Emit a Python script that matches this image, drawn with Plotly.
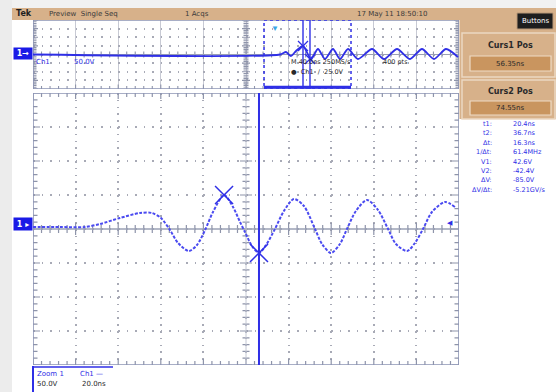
import plotly.graph_objects as go

W, H = 556, 392

# ---------------- data ----------------
# Zoom (main) window trace: time in ns, voltage in V
main_t = [-100.0, -87.3, -75.6, -68.5, -59.2, -49.8, -44.1, -39.9, -35.7, -31.9,
          -26.8, -23.0, -19.2, -15.5, -10.3, -6.1, -2.8, -0.5, 2.8, 6.1,
          9.4, 13.6, 17.8, 22.5, 27.2, 32.4, 35.7, 39.9, 44.1, 47.4,
          51.6, 56.8, 62.0, 66.7, 70.4, 75.6, 79.3, 83.1, 87.3, 93.4, 98.1]
main_v = [2.9, 2.9, 2.9, 7.4, 16.2, 23.5, 23.5, 16.2, -1.5, -20.6,
          -32.4, -23.5, -1.5, 25.0, 50.0, 32.4, 10.3, -4.4, -25.0, -35.3,
          -23.5, 0.0, 26.5, 44.1, 33.8, 0.0, -22.1, -35.3, -22.1, 0.0,
          26.5, 42.6, 27.9, 0.0, -22.1, -32.4, -20.6, 0.0, 25.0, 39.7, 32.4]

# Full record (upper) window trace
up_t = [-500, 79.8, 93.9, 105.6, 117.4, 133.8, 152.6, 169.0, 185.4, 204.2, 220.7,
        239.4, 262.9, 295.8, 323.9, 354.5, 385.0, 413.1, 441.3, 469.5, 497.6]
up_v = [0, 0, 14.5, -8.7, 20.3, 49.3, -26.1, 31.9, -26.1, 31.9, -26.1,
        31.9, -26.1, 31.9, -26.1, 31.9, -26.1, 31.9, -26.1, 31.9, -14.5]

# cursors
cursor_t = [-10.3, 6.1]
cursor_v = [50.0, -35.3]
up_cursor_t = [133.8, 150.2]
up_cursor_v = [49.3, -26.1]
zoom_box = [42.3, 246.5]
trig_pos_up = 68.0
trig_level = 10.3
gnd_level = 7.4

# readouts
read_labels = ["t1:", "t2:", "\u0394t:", "1/\u0394t:", "V1:", "V2:", "\u0394V:", "\u0394V/\u0394t:"]
read_values = ["20.4ns", "36.7ns", "16.3ns", "61.4MHz", "42.6V", "-42.4V", "-85.0V", "-5.21GV/s"]
curs1_pos = "56.35ns"
curs2_pos = "74.55ns"

BLUE = "#2f2fe6"
BLUE_T = "#4a4af0"
TAN = "#d7b18a"
BOX = "#c9955f"
GRID = "#a8aab6"
BORDER = "#8c94b4"
FONT = "DejaVu Sans"

fig = go.Figure()
fig.add_trace(go.Scatter(x=up_t, y=up_v, xaxis="x", yaxis="y", mode="lines",
                         line=dict(color=BLUE, width=1.8, shape="spline", smoothing=0.7),
                         hoverinfo="skip"))
fig.add_trace(go.Scatter(x=up_cursor_t, y=up_cursor_v, xaxis="x", yaxis="y", mode="markers",
                         marker=dict(symbol="x-thin", size=10, line=dict(color=BLUE, width=1.3)),
                         hoverinfo="skip"))
fig.add_trace(go.Scatter(x=main_t, y=main_v, xaxis="x2", yaxis="y2", mode="lines",
                         line=dict(color=BLUE_T, width=2, dash="3px,1.5px", shape="spline", smoothing=0.8),
                         hoverinfo="skip"))
fig.add_trace(go.Scatter(x=cursor_t, y=cursor_v, xaxis="x2", yaxis="y2", mode="markers",
                         marker=dict(symbol="x-thin", size=18, line=dict(color=BLUE, width=1.5)),
                         hoverinfo="skip"))

xd = [33 / W, 459 / W]
up_yd = [1 - 89 / H, 1 - 20 / H]
main_yd = [1 - 365 / H, 1 - 93 / H]
ax_common = dict(showticklabels=False, ticks="", zeroline=False, showline=False, fixedrange=True)

fig.update_layout(
    width=W, height=H, margin=dict(l=0, r=0, t=0, b=0),
    paper_bgcolor="white", plot_bgcolor="rgba(0,0,0,0)", showlegend=False,
    xaxis=dict(domain=xd, range=[-500, 500], anchor="y", dtick=100, tick0=0,
               showgrid=True, gridcolor="#c8cad4", gridwidth=1, **ax_common),
    yaxis=dict(domain=up_yd, range=[-200, 200], anchor="x", dtick=50, tick0=0,
               showgrid=True, gridcolor=GRID, gridwidth=1.5, griddash="1.5px,7.02px", **ax_common),
    xaxis2=dict(domain=xd, range=[-100, 100], anchor="y2", dtick=20, tick0=0,
                showgrid=True, gridcolor=GRID, gridwidth=1.5, griddash="1.5px,5.3px", **ax_common),
    yaxis2=dict(domain=main_yd, range=[-200, 200], anchor="x2", dtick=50, tick0=0,
                showgrid=True, gridcolor=GRID, gridwidth=1.5, griddash="1.5px,7.02px", **ax_common),
)

shapes = []


def P(px):
    return px / W


def Q(py):
    return 1 - py / H


def prect(x0, y0, x1, y1, fill, line=None, lw=0, layer="above"):
    shapes.append(dict(type="rect", xref="paper", yref="paper", x0=P(x0), x1=P(x1),
                       y0=Q(y1), y1=Q(y0), fillcolor=fill,
                       line=dict(color=line or fill, width=lw), layer=layer))


def pline(x0, y0, x1, y1, color, width, dash="solid"):
    shapes.append(dict(type="line", xref="paper", yref="paper", x0=P(x0), x1=P(x1),
                       y0=Q(y0), y1=Q(y1), line=dict(color=color, width=width, dash=dash)))


def segpath(segs, xr, yr, color, width, layer="between"):
    path = "".join(f"M{a},{b}L{c},{d}" for a, b, c, d in segs)
    shapes.append(dict(type="path", xref=xr, yref=yr, path=path,
                       line=dict(color=color, width=width), layer=layer))


# ---- main graticule ----
ns_px = 20 / 42.6
v_px = 50 / 34.0
segs = []
for i in range(51):
    t = -100 + 4 * i
    L = 4 if i % 5 else 6
    segs.append((t, -L * v_px, t, L * v_px))
    segs.append((t, -200, t, -200 + L * v_px))
    segs.append((t, 200, t, 200 - L * v_px))
for j in range(41):
    v = -200 + 10 * j
    L = 3.5 if j % 5 else 6
    segs.append((-L * ns_px, v, L * ns_px, v))
    segs.append((-100, v, -100 + (L + 1) * ns_px, v))
    segs.append((100, v, 100 - (L + 1) * ns_px, v))
segpath(segs, "x2", "y2", "#8e94aa", 1.2)
segpath([(-100, 0, 100, 0)], "x2", "y2", "#9aa0b4", 1.3)
segpath([(0, -200, 0, 200)], "x2", "y2", "#c4c8d4", 1)
shapes.append(dict(type="rect", xref="x2", yref="y2", x0=-100, x1=100, y0=-200, y1=200,
                   line=dict(color=BORDER, width=1.6), layer="between"))

# ---- upper graticule ----
ns_up = 100 / 42.6
v_up = 50 / 8.625
segs = []
for i in range(51):
    t = -500 + 20 * i
    L = 3 if i % 5 else 4.5
    segs.append((t, -L * v_up, t, L * v_up))
    segs.append((t, -200, t, -200 + L * v_up))
for j in range(41):
    v = -200 + 10 * j
    L = 2.5 if j % 5 else 4
    segs.append((-L * ns_up, v, L * ns_up, v))
    segs.append((-500, v, -500 + (L + 1) * ns_up, v))
    segs.append((500, v, 500 - (L + 1) * ns_up, v))
segpath(segs, "x", "y", "#8e94aa", 1.1)
segpath([(-500, 0, 500, 0)], "x", "y", "#9aa0b4", 1.2)
shapes.append(dict(type="rect", xref="x", yref="y", x0=-500, x1=500, y0=-200, y1=200,
                   line=dict(color=BORDER, width=1.6), layer="between"))

# zoom box + cursors in upper window
shapes.append(dict(type="rect", xref="x", yref="y", x0=zoom_box[0], x1=zoom_box[1], y0=-200, y1=200,
                   line=dict(color=BLUE, width=1.5, dash="dot")))
shapes.append(dict(type="line", xref="x", yref="y", x0=zoom_box[0], x1=zoom_box[1], y0=-190, y1=-190,
                   line=dict(color=BLUE, width=3)))
for ct in up_cursor_t:
    shapes.append(dict(type="line", xref="x", yref="y", x0=ct, x1=ct, y0=-200, y1=200,
                       line=dict(color=BLUE, width=1.4)))
# main cursor 2 line
shapes.append(dict(type="line", xref="x2", yref="y2", x0=cursor_t[1], x1=cursor_t[1], y0=-200, y1=200,
                   line=dict(color=BLUE, width=2)))

# ---- UI chrome ----
prect(0, 0, W, 8, "#f1f1f1", layer="below")
prect(0, 0, 12, H, "#ececec", layer="below")
prect(12, 8, W, 20, TAN)
prect(459.5, 8, W, 119, TAN)
prect(517, 13, 553, 29, "#1e1e1e", "#b89878", 1)
prect(462, 33, 555, 77, TAN, "#ecd8c2", 1.5)
prect(470, 56, 551, 71, BOX, "#efdcc6", 1.2)
prect(462, 80, 555, 119, TAN, "#ecd8c2", 1.5)
prect(470, 101, 551, 115, BOX, "#efdcc6", 1.2)
# bottom bracket
pline(33, 366, 33, 392, BLUE, 2)
pline(33, 367, 113, 367, BLUE, 1.5)

fig.update_layout(shapes=shapes)

ann = []


def txt(px, py, s, color="#2a2a2a", size=7, xanchor="left", bold=False, bg=None):
    d = dict(x=P(px), y=Q(py), xref="paper", yref="paper", text=f"<b>{s}</b>" if bold else s,
             showarrow=False, xanchor=xanchor, yanchor="middle",
             font=dict(family=FONT, size=size, color=color))
    if bg:
        d.update(bgcolor=bg, borderpad=1)
    ann.append(d)


txt(14, 14, "Tek", "#1e1e1e", 8, bold=True)
txt(47, 14, "Preview  Single Seq", "#3a3a3a", 7)
txt(183, 14, "1 Acqs", "#3a3a3a", 7)
txt(355, 14, "17 May 11 18:50:10", "#3a3a3a", 7)
txt(535, 21, "Buttons", "white", 7, xanchor="center")
txt(510, 46, "Curs1 Pos", "#2a2a2a", 8, xanchor="center", bold=True)
txt(510, 63.5, curs1_pos, "#2a2a2a", 7, xanchor="center")
txt(510, 91, "Curs2 Pos", "#2a2a2a", 8, xanchor="center", bold=True)
txt(510, 108, curs2_pos, "#2a2a2a", 7, xanchor="center")

for k, (lab, val) in enumerate(zip(read_labels, read_values)):
    y = 124 + 9.4 * k
    txt(494, y, lab, BLUE, 6.5, xanchor="right")
    txt(511, y, val, BLUE, 6.5)

# upper window labels
txt(34, 62, "Ch1", BLUE, 7)
txt(72, 62, "50.0V", BLUE, 7)
txt(289, 62, "M 40.0ns 250MS/s", "#2a2a2a", 6.5)
txt(381, 62, "400 pts", "#2a2a2a", 6.5)
txt(289, 72, "\u25cf  Ch1  \u2215  25.0V", "#2a2a2a", 6.5)

# bottom labels
txt(35, 374, "Zoom 1", BLUE, 7)
txt(78, 374, "Ch1 \u2014", BLUE, 7)
txt(35, 384, "50.0V", "#2a2a2a", 7)
txt(80, 384, "20.0ns", "#2a2a2a", 7)

# channel markers
ann.append(dict(x=P(23), y=Q(54), xref="paper", yref="paper", text="<b>1\u2192</b>", showarrow=False,
                xanchor="center", yanchor="middle", width=16, height=9, bgcolor="#1a1ae6",
                font=dict(family=FONT, size=8, color="white")))
ann.append(dict(x=P(23), y=Q(224), xref="paper", yref="paper", text="<b>1 \u25b8</b>", showarrow=False,
                xanchor="center", yanchor="middle", width=16, height=10, bgcolor="#1a1ae6",
                font=dict(family=FONT, size=8, color="white")))
# trigger markers
ann.append(dict(x=trig_pos_up, y=200, xref="x", yref="y", text="\u25bc", showarrow=False,
                yanchor="top", font=dict(size=8, color="#3aa6e6")))
ann.append(dict(x=96, y=trig_level, xref="x2", yref="y2", text="\u25c0", showarrow=False,
                font=dict(size=7, color=BLUE)))

fig.update_layout(annotations=ann)
fig.write_html("out.html", config={"displayModeBar": False},
               post_script="document.body.style.margin='0';document.body.style.overflow='hidden';")
